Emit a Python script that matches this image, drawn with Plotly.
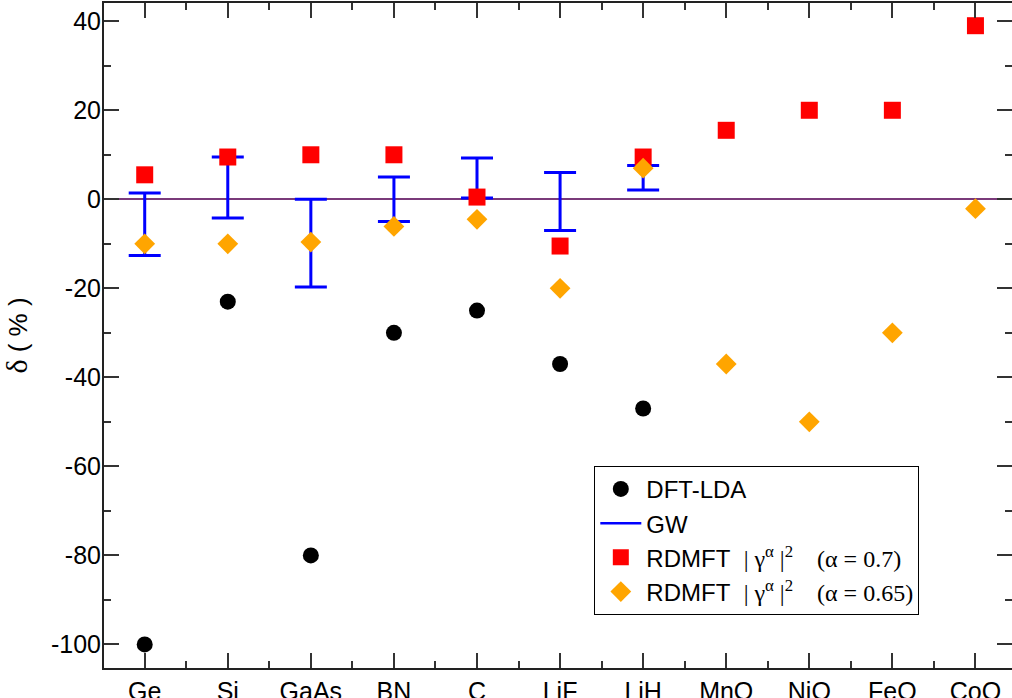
import plotly.graph_objects as go

categories = ["Ge", "Si", "GaAs", "BN", "C", "LiF", "LiH", "MnO", "NiO", "FeO", "CoO"]

# DFT-LDA (first 7 materials)
dft_lda = [-100, -23, -80, -30, -25, -37, -47]

# GW ranges (low, high) for the first 7 materials
gw_low = [-12.6, -4.2, -19.7, -5.0, 0.3, -7.0, 2.1]
gw_high = [1.4, 9.5, 0.0, 5.0, 9.3, 6.0, 7.6]

# RDMFT alpha=0.7
rdmft_07 = [5.5, 9.5, 10, 10, 0.5, -10.5, 9.5, 15.5, 20, 20, 39]
# RDMFT alpha=0.65
rdmft_065 = [-10, -10, -9.6, -6.1, -4.5, -20, 7, -37, -50, -30, -2.1]

yticks = [-100, -80, -60, -40, -20, 0, 20, 40]
ytick_text = [str(v) for v in yticks]

xi = list(range(len(categories)))
xi_gw = xi[:len(gw_low)]
gw_span = [h - l for h, l in zip(gw_high, gw_low)]
minor_x = [i + 0.5 for i in range(-1, len(categories))]

SERIF = "Liberation Serif"
NB = "\u00a0"


def rdmft_label(alpha):
    return ("RDMFT" + NB * 2
            + f"<span style='font-family:{SERIF};color:#000000'>|" + NB + "γ<sup>α</sup>" + NB + "|<sup>2</sup>"
            + NB * 4 + f"(α = {alpha})</span>")


fig = go.Figure()

# GW error bars (drawn first)
fig.add_trace(go.Scatter(
    x=xi_gw, y=gw_low, mode="markers",
    marker=dict(size=1, opacity=0, color="#0000FF"),
    error_y=dict(type="data", symmetric=False, array=gw_span,
                 arrayminus=[0] * len(gw_low), color="#0000FF",
                 thickness=3, width=16),
    showlegend=False, hoverinfo="skip",
))
# GW legend entry
fig.add_trace(go.Scatter(
    x=[None], y=[None], mode="lines", name="GW",
    line=dict(color="#0000FF", width=2.5), legendrank=2,
))
fig.add_trace(go.Scatter(
    x=xi, y=rdmft_07, mode="markers", legendrank=3,
    name=rdmft_label("0.7"),
    marker=dict(symbol="square", size=17, color="#FF0000"),
))
fig.add_trace(go.Scatter(
    x=xi, y=rdmft_065, mode="markers", legendrank=4,
    name=rdmft_label("0.65"),
    marker=dict(symbol="diamond", size=16, color="#FFA500"),
))
fig.add_trace(go.Scatter(
    x=xi[:len(dft_lda)], y=dft_lda, mode="markers", name="DFT-LDA", legendrank=1,
    marker=dict(symbol="circle", size=16, color="#000000"),
))

axis_common = dict(
    showline=True, linecolor="#222222", linewidth=2, mirror="allticks",
    ticks="inside", ticklen=15, tickwidth=1.5, tickcolor="#333333",
    showgrid=False, automargin=False,
    tickfont=dict(family="Liberation Sans, Arial, sans-serif", size=25, color="#000000"),
)

fig.update_layout(
    width=1012, height=698,
    margin=dict(l=104, r=0, t=3, b=30, autoexpand=False),
    paper_bgcolor="white", plot_bgcolor="white",
    font=dict(family="Liberation Sans, Arial, sans-serif", size=24, color="#000000"),
    xaxis=dict(
        **axis_common, range=[-0.49, 10.44], tickvals=xi, ticktext=categories,
        zeroline=False,
        minor=dict(tickvals=minor_x, ticks="inside", ticklen=7, tickwidth=1.5, tickcolor="#333333"),
    ),
    yaxis=dict(
        **axis_common, range=[-105.3, 44.1], tickvals=yticks, ticktext=ytick_text,
        ticklabelstandoff=-4,
        zeroline=True, zerolinecolor="#7a3a7a", zerolinewidth=1.5,
        minor=dict(dtick=10, ticks="inside", ticklen=7, tickwidth=1.5, tickcolor="#333333"),
        title=dict(text=f"<span style='font-family:{SERIF};font-size:30px'>δ</span>" + NB + "(" + NB + "%" + NB + ")",
                   font=dict(size=26), standoff=18),
    ),
    legend=dict(
        x=0.540, y=0.304, xanchor="left", yanchor="top",
        bordercolor="#000000", borderwidth=1, bgcolor="white",
        font=dict(size=24), tracegroupgap=0, itemwidth=41,
    ),
    showlegend=True,
)

fig.write_html("out.html", config={"displayModeBar": False},
               post_script="document.body.style.margin='0';")
